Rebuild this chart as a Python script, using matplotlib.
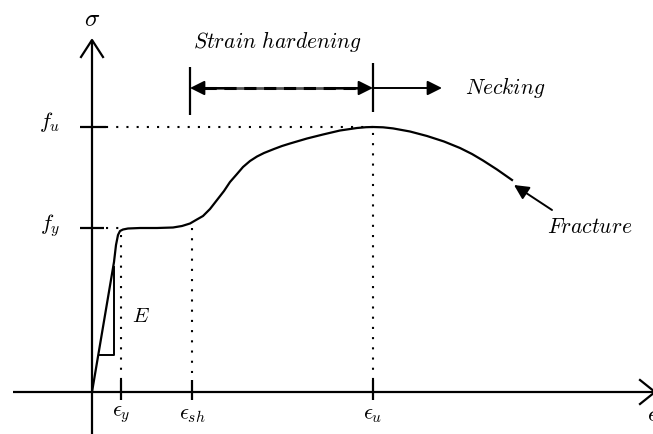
import numpy as np
import matplotlib
matplotlib.use("Agg")
import matplotlib.pyplot as plt

plt.rcParams['mathtext.fontset'] = 'cm'

# stress-strain curve (origin at axis crossing)
strain = [0, 22, 24, 26, 28, 31, 36, 48, 65, 81, 90, 98, 104, 111, 118, 125,
          132, 138, 145, 151, 158, 165, 172, 182, 190, 198, 215, 231, 248, 265, 274, 281,
          291, 301, 318, 335, 352, 368, 380, 391, 405, 420]
stress = [0, 130, 147, 157, 161, 162.5, 163.5, 164, 164, 164.5, 166, 168.5, 172, 176,
          183, 192, 201, 210, 218, 225, 231, 235.5, 239, 243, 246, 248.5, 253.5, 257.5, 261.5, 264, 264.8, 265,
          264.7, 263.6, 260.5, 256, 250.5, 244, 238, 231.5, 222.5, 212]

eps_y, eps_sh, eps_u = 29, 100, 281
f_y, f_u = 164, 265
eps_labels = [r'$\epsilon_y$', r'$\epsilon_{sh}$', r'$\epsilon_u$']

fig = plt.figure(figsize=(6.53, 4.34), dpi=100)
ax = fig.add_axes([0, 0, 1, 1])
ax.set_xlim(-92, 561)
ax.set_ylim(-42, 392)
ax.axis('off')

k = dict(color='black', lw=1.6, solid_capstyle='butt')
dot = dict(color='black', lw=1.5, linestyle=(0, (1, 3.9)))

# axes with open arrow heads
ax.plot([0, 0], [-42, 352], **k)
ax.plot([-11, 0, 11], [335, 352, 335], color='black', lw=1.6)
ax.plot([-79, 563], [0, 0], **k)
ax.plot([548, 563, 548], [12, 0, -12], color='black', lw=1.6)

# ticks on axes
for e, lab in zip([eps_y, eps_sh, eps_u], eps_labels):
    ax.plot([e, e], [-8, 12], **k)
    ax.text(e, -23, lab, fontsize=16, ha='center', va='center')
ax.text(555, -23, r'$\epsilon$', fontsize=16, ha='left', va='center')
ax.plot([-12, 14], [f_u, f_u], **k)
ax.plot([-12, 12], [f_y, f_y], **k)
ax.text(-42, 270, r'$f_u$', fontsize=16, ha='center', va='center')
ax.text(-42, 166, r'$f_y$', fontsize=16, ha='center', va='center')
ax.text(0, 373, r'$\sigma$', fontsize=18, ha='center', va='center')

# dotted guides
ax.plot([14, eps_u], [f_u, f_u], **dot)
ax.plot([14, 27], [f_y, f_y], **dot)
ax.plot([eps_y, eps_y], [12, 160], **dot)
ax.plot([eps_sh, eps_sh], [19, 164], **dot)
ax.plot([eps_u, eps_u], [12, f_u], **dot)

# curve
ax.plot(strain, stress, color='black', lw=1.6, solid_joinstyle='round')

# slope triangle
ax.plot([8, 22, 22], [37, 37, 125], color='black', lw=1.4)
ax.text(49, 76, r'$E$', fontsize=15, ha='center', va='center')

# strain hardening / necking dimension
ya = 304
ax.plot([98, 98], [277, 325], **k)
ax.plot([eps_u, eps_u], [280, 329], **k)
ax.plot([112, 268], [ya, ya], color='#555555', lw=2.0)
ax.plot([112, 268], [ya, ya], color='black', lw=2.2, linestyle=(0, (4, 2.5)))
hp = dict(arrowstyle='-|>', color='black', lw=1.4, mutation_scale=22, shrinkA=0, shrinkB=0)
ax.annotate('', xy=(98, ya), xytext=(140, ya), arrowprops=hp)
ax.annotate('', xy=(eps_u, ya), xytext=(240, ya), arrowprops=hp)
ax.annotate('', xy=(350, ya), xytext=(eps_u, ya), arrowprops=hp)

ax.text(185, 350, r'$Strain\ hardening$', fontsize=15.5, ha='center', va='center')
ax.text(413, 305, r'$Necking$', fontsize=15.5, ha='center', va='center')

# fracture
ax.annotate('', xy=(422, 207), xytext=(460, 182), arrowprops=hp)
ax.text(498, 165, r'$Fracture$', fontsize=15.5, ha='center', va='center')

fig.savefig('out.png', dpi=100)
